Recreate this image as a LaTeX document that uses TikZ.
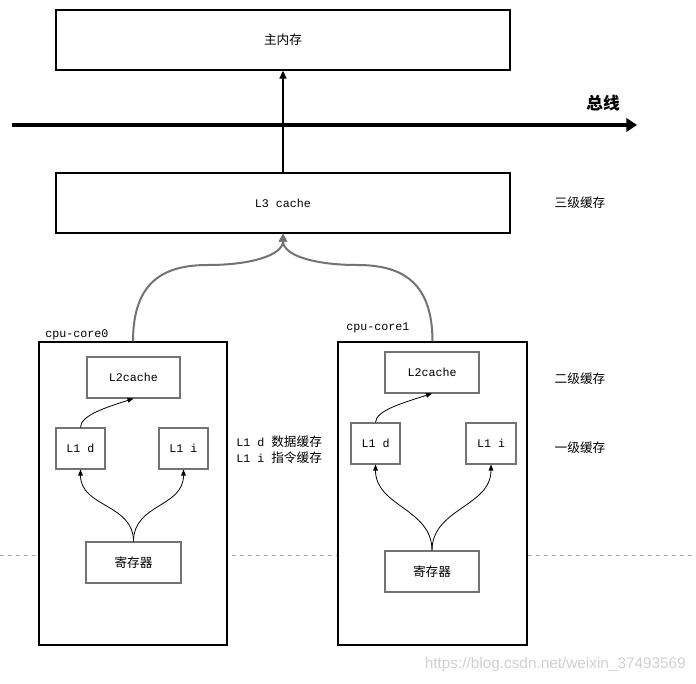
\documentclass[tikz,border=0pt]{standalone}
\usepackage{fontspec}
\newfontfamily\cjk{Noto Sans CJK SC}
\newfontfamily\mono{Liberation Mono}
\newfontfamily\wmfont{Liberation Sans}
\usetikzlibrary{arrows.meta}
\begin{document}
\begin{tikzpicture}[x=0.75pt,y=-0.75pt]
\tikzset{
 outerbox/.style={draw=black, line width=0.8pt, fill=white, inner sep=0pt},
 innerbox/.style={draw=black!55, line width=0.8pt, fill=white, inner sep=0pt, minimum height=30.75pt},
 cjktext/.style={font=\cjk\fontsize{9.5}{11}\selectfont},
 monotext/.style={font=\mono\fontsize{8.75}{11}\selectfont},
 busline/.style={line width=3pt, -{Triangle[length=8pt,width=10pt]}},
 uparrow/.style={line width=1.5pt, -{Triangle[length=6pt,width=5pt]}},
 graycurve/.style={draw=black!55, line width=1.5pt, -{Triangle[length=6pt,width=6pt]}},
 thincurve/.style={line width=0.6pt, -{Triangle[length=4.5pt,width=3.5pt]}},
 dashline/.style={draw=black!30, dashed, line width=0.6pt},
 plain/.style={inner sep=0pt},
}
\useasboundingbox (0,0) rectangle (696,684);
\fill[white] (0,0) rectangle (696,684);

% dashed guide line
\coordinate (dl) at (0,555);
\coordinate (dr) at (696,555);
\draw[dashline] (dl) -- (dr);

% main memory and L3
\node[outerbox, cjktext, minimum width=340.5pt, minimum height=45pt] (main) at (283,40) {主内存};
\node[outerbox, monotext, minimum width=340.5pt, minimum height=45pt] (L3) at (283,203) {L3 cache};

% bus
\coordinate (busL) at (12,125);
\coordinate (busR) at (637,125);
\draw[busline] (busL) -- (busR);
\node[plain, font=\cjk\bfseries\fontsize{12.5}{14}\selectfont] (bus) at (603,103) {总线};
\draw[uparrow] (L3.north) -- (main.south);

% cores
\node[outerbox, minimum width=141pt, minimum height=227.25pt] (c0) at (133,493.5) {};
\node[outerbox, minimum width=141.75pt, minimum height=227.25pt] (c1) at (432.5,493.5) {};
\node[plain, monotext, anchor=west] (c0lab) at (45,335) {cpu-core0};
\node[plain, monotext, anchor=west] (c1lab) at (346,328) {cpu-core1};

% core0 contents
\node[innerbox, monotext, minimum width=69.75pt] (L2a) at (133.5,377.5) {L2cache};
\node[innerbox, monotext, minimum width=36.75pt] (L1da) at (80.5,448.5) {L1 d};
\node[innerbox, monotext, minimum width=36.75pt] (L1ia) at (183.5,448.5) {L1 i};
\node[innerbox, cjktext, minimum width=71.25pt] (RegA) at (133.5,562.5) {寄存器};

% core1 contents
\node[innerbox, monotext, minimum width=70.5pt] (L2b) at (432,372.5) {L2cache};
\node[innerbox, monotext, minimum width=36.75pt] (L1db) at (375.5,443.5) {L1 d};
\node[innerbox, monotext, minimum width=37.5pt] (L1ib) at (491,443.5) {L1 i};
\node[innerbox, cjktext, minimum width=70.5pt] (RegB) at (432,571.5) {寄存器};

% gray curves to L3
\coordinate (m0) at (208,265);
\coordinate (m1) at (357,265);
\draw[graycurve] (c0.north) .. controls +(0,-62) and +(-42,0) .. (m0) .. controls +(42,0) and +(0,22) .. (L3.south);
\draw[graycurve] (c1.north) .. controls +(0,-62) and +(42,0) .. (m1) .. controls +(-42,0) and +(0,22) .. (L3.south);

% thin curves core0
\draw[thincurve] (L1da.north) .. controls +(0,-12) and +(-28,9) .. (L2a.south);
\draw[thincurve] (RegA.north) .. controls +(0,-38) and +(0,38) .. (L1da.south);
\draw[thincurve] (RegA.north) .. controls +(0,-38) and +(0,38) .. (L1ia.south);

% thin curves core1
\draw[thincurve] (L1db.north) .. controls +(0,-12) and +(-28,9) .. (L2b.south);
\draw[thincurve] (RegB.north) .. controls +(0,-42) and +(0,42) .. (L1db.south);
\draw[thincurve] (RegB.north) .. controls +(0,-42) and +(0,42) .. (L1ib.south);

% side labels
\node[plain, cjktext] (lv3) at (580,203) {三级缓存};
\node[plain, cjktext] (lv2) at (580,379) {二级缓存};
\node[plain, cjktext] (lv1) at (580,448) {一级缓存};
\node[plain, anchor=west] (l1dlab) at (236,442) {{\mono\fontsize{8.75}{11}\selectfont L1 d }{\cjk\fontsize{9.5}{11}\selectfont 数据缓存}};
\node[plain, anchor=west] (l1ilab) at (236,458) {{\mono\fontsize{8.75}{11}\selectfont L1 i }{\cjk\fontsize{9.5}{11}\selectfont 指令缓存}};

% watermark
\node[plain, anchor=east, text=black!18, font=\wmfont\fontsize{11.5}{13}\selectfont] (wm) at (686,665) {https://blog.csdn.net/weixin\_37493569};
\end{tikzpicture}
\end{document}
